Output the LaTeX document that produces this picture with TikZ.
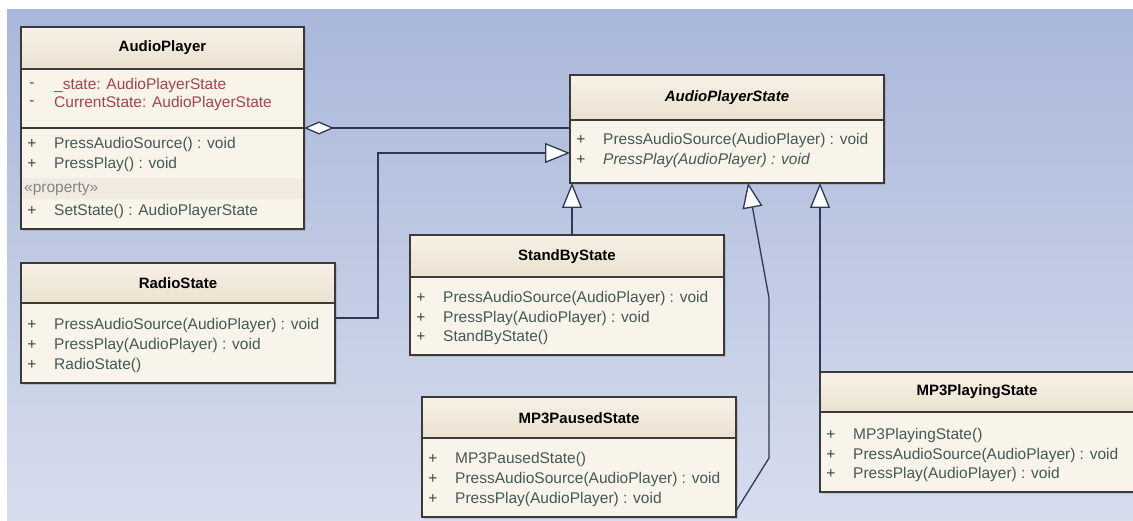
\documentclass[tikz,border=0pt]{standalone}
\usepackage{fontspec}
\setmainfont{Liberation Sans}
\usetikzlibrary{arrows.meta,calc,shadows}

\definecolor{bgTop}{HTML}{A9B7DA}
\definecolor{bgBottom}{HTML}{D7DDED}
\definecolor{headTop}{HTML}{F7F1E6}
\definecolor{headBottom}{HTML}{EBE1CF}
\definecolor{bodyFill}{HTML}{F9F4EA}
\definecolor{bandFill}{HTML}{F1EBE1}
\definecolor{frameCol}{HTML}{3A3A3A}
\definecolor{memberCol}{HTML}{445855}
\definecolor{attrCol}{HTML}{A3444F}
\definecolor{stereoCol}{HTML}{858585}
\definecolor{linkCol}{HTML}{2E3957}

\tikzset{
  classbox/.style={fill=bodyFill, inner sep=0pt, outer sep=0pt,
    drop shadow={opacity=0.3, shadow xshift=2pt, shadow yshift=-2pt}},
  frame/.style={draw=frameCol, line width=1.4pt},
  classtitle/.style={font=\fontsize{15}{17}\selectfont\bfseries, text=black, inner sep=0pt},
  member/.style={font=\fontsize{15.5}{17}\selectfont, inner sep=0pt},
  gen/.style={draw=linkCol, line width=1.3pt,
    -{Triangle[length=25pt, width=20pt, fill=white]}},
  aggr/.style={draw=linkCol, line width=1.3pt,
    {Diamond[length=30pt, width=13pt, fill=white]}-},
}

% class box: name, left, top, width, height, header height
\newcommand\umlclass[6]{%
  \node[classbox, minimum width=#4pt, minimum height=#5pt, anchor=north west] (#1) at (#2,#3) {};
  \shade[top color=headTop, bottom color=headBottom]
    (#1.north west) rectangle ($(#1.north east)+(0,#6)$);
  \draw[frame] ($(#1.north west)+(0,#6)$) -- ($(#1.north east)+(0,#6)$);
}
\newcommand\umlframe[1]{\draw[frame] (#1.north west) rectangle (#1.south east);}
% member row: node, row offset, visibility sign, colour, text
\newcommand\umlmember[5]{%
  \node[member, text=#4!80!black] at ($(#1.north west)+(11,#2)$) {#3};
  \node[member, text=#4, anchor=west] at ($(#1.north west)+(33,#2)$) {#5};
}

\begin{document}
\begin{tikzpicture}[x=1pt, y=-1pt]
\useasboundingbox (0,0) rectangle (1133,521);
\fill[white] (0,0) rectangle (1133,521);
\shade[top color=bgTop, bottom color=bgBottom] (7,10) rectangle (1133,520);

% AudioPlayer
\umlclass{ap}{21}{27}{283}{202}{42}
\node[classtitle] at ($(ap.north)+(0,21)$) {AudioPlayer};
\umlmember{ap}{58}{-}{attrCol}{\_state: AudioPlayerState}
\umlmember{ap}{76}{-}{attrCol}{CurrentState: AudioPlayerState}
\draw[frame] ($(ap.north west)+(0,101)$) -- ($(ap.north east)+(0,101)$);
\umlmember{ap}{117}{+}{memberCol}{PressAudioSource() : void}
\umlmember{ap}{137}{+}{memberCol}{PressPlay() : void}
\fill[bandFill] ($(ap.north west)+(1,151)$) rectangle ($(ap.north east)+(-1,172)$);
\node[member, text=stereoCol, anchor=west] at ($(ap.north west)+(3,162)$) {«property»};
\umlmember{ap}{184}{+}{memberCol}{SetState() : AudioPlayerState}
\umlframe{ap}

% AudioPlayerState
\umlclass{aps}{570}{75}{314}{108}{45}
\node[classtitle] at ($(aps.north)+(0,23)$) {\itshape AudioPlayerState};
\umlmember{aps}{65}{+}{memberCol}{PressAudioSource(AudioPlayer) : void}
\umlmember{aps}{85}{+}{memberCol}{\itshape PressPlay(AudioPlayer) : void}
\umlframe{aps}

% RadioState
\umlclass{radio}{21}{263}{314}{120}{40}
\node[classtitle] at ($(radio.north)+(0,20)$) {RadioState};
\umlmember{radio}{62}{+}{memberCol}{PressAudioSource(AudioPlayer) : void}
\umlmember{radio}{82}{+}{memberCol}{PressPlay(AudioPlayer) : void}
\umlmember{radio}{102}{+}{memberCol}{RadioState()}
\umlframe{radio}

% StandByState
\umlclass{standby}{410}{235}{314}{120}{42}
\node[classtitle] at ($(standby.north)+(0,22)$) {StandByState};
\umlmember{standby}{63}{+}{memberCol}{PressAudioSource(AudioPlayer) : void}
\umlmember{standby}{83}{+}{memberCol}{PressPlay(AudioPlayer) : void}
\umlmember{standby}{102}{+}{memberCol}{StandByState()}
\umlframe{standby}

% MP3PausedState
\umlclass{paused}{422}{397}{314}{120}{41}
\node[classtitle] at ($(paused.north)+(0,21)$) {MP3PausedState};
\umlmember{paused}{62}{+}{memberCol}{MP3PausedState()}
\umlmember{paused}{82}{+}{memberCol}{PressAudioSource(AudioPlayer) : void}
\umlmember{paused}{102}{+}{memberCol}{PressPlay(AudioPlayer) : void}
\umlframe{paused}

% MP3PlayingState
\umlclass{playing}{820}{372}{316}{120}{40}
\node[classtitle] at ($(playing.north west)+(157,20)$) {MP3PlayingState};
\umlmember{playing}{63}{+}{memberCol}{MP3PlayingState()}
\umlmember{playing}{83}{+}{memberCol}{PressAudioSource(AudioPlayer) : void}
\umlmember{playing}{102}{+}{memberCol}{PressPlay(AudioPlayer) : void}
\umlframe{playing}

% aggregation
\draw[aggr] (ap.east) -- (ap.east -| aps.west);

% generalisations
\coordinate (radioBend) at (378,153);
\draw[gen] ($(radio.east)+(0,-5)$) -| (radioBend) -- (radioBend -| aps.west);

\coordinate (sbTop) at ($(standby.north west)+(162,0)$);
\draw[gen] (sbTop) -- (sbTop |- aps.south);

\coordinate (pa1) at (769,458);
\coordinate (pa2) at (769,298);
\coordinate (pa3) at ($(aps.south west)+(178,0)$);
\draw[gen] ($(paused.south east)+(0,-6)$) -- (pa1) -- (pa2) -- (pa3);

\draw[gen] (playing.north west) -- (playing.north west |- aps.south);
\end{tikzpicture}
\end{document}
